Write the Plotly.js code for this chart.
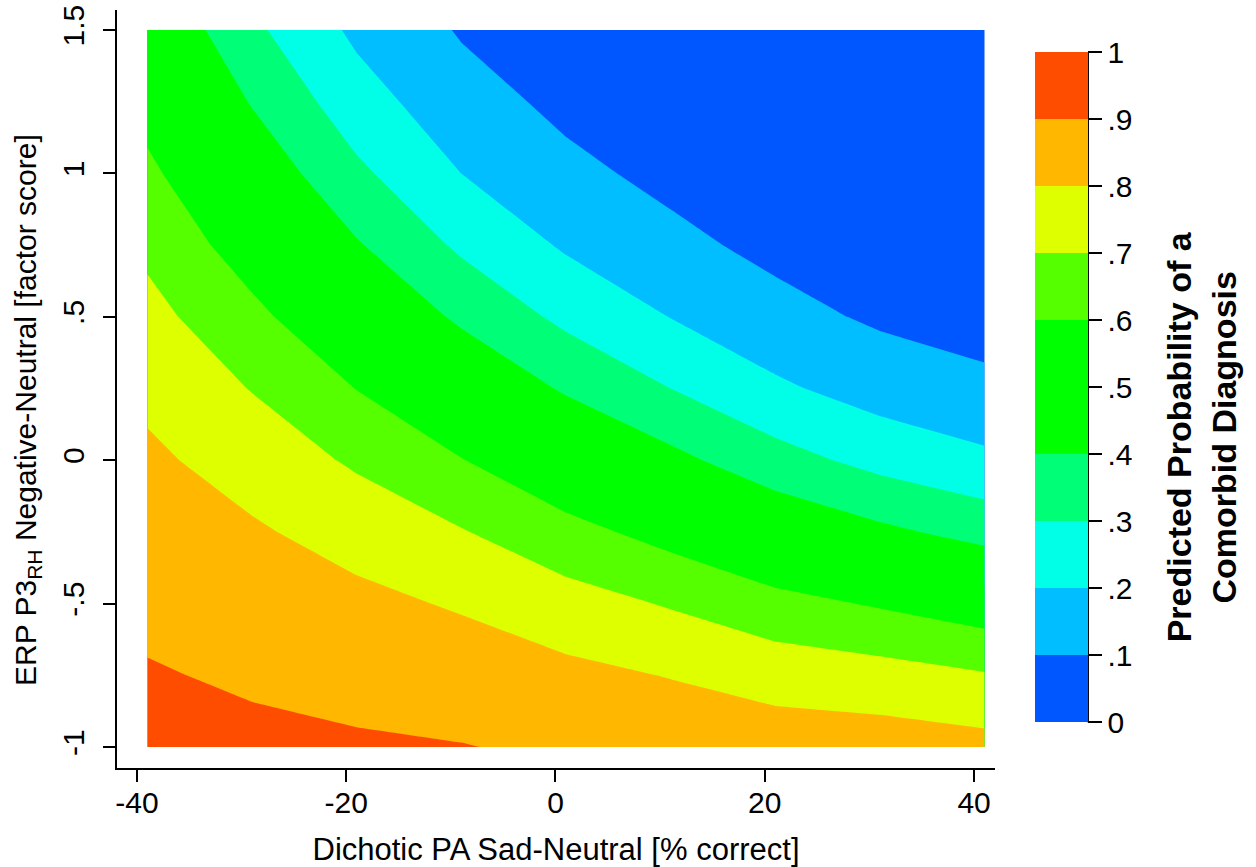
<!DOCTYPE html>
<html>
<head>
<meta charset="utf-8">
<script src="https://cdn.plot.ly/plotly-3.0.1.min.js"></script>
<style>html,body{margin:0;padding:0;background:#fff;}#chart{width:1256px;height:867px;}</style>
</head>
<body>
<div id="chart"></div>
<script>
// Dichotic PA Sad-Neutral [% correct]
var xValues = [-39, -29, -19, -9, 1, 11, 21, 31, 41];
// ERP P3 RH Negative-Neutral [factor score]
var yValues = [-1, -0.75, -0.5, -0.25, 0, 0.25, 0.5, 0.75, 1, 1.25, 1.5];

// Predicted probability of a comorbid diagnosis, one row per y value
var zAtYm100 = [0.925, 0.917, 0.910, 0.903, 0.886, 0.872, 0.854, 0.849, 0.832];
var zAtYm075 = [0.906, 0.890, 0.874, 0.855, 0.825, 0.796, 0.760, 0.740, 0.708];
var zAtYm050 = [0.882, 0.855, 0.825, 0.790, 0.740, 0.692, 0.633, 0.590, 0.542];
var zAtYm025 = [0.853, 0.812, 0.762, 0.706, 0.633, 0.564, 0.484, 0.421, 0.366];
var zAtY000  = [0.818, 0.759, 0.686, 0.604, 0.511, 0.427, 0.338, 0.269, 0.220];
var zAtY025  = [0.778, 0.696, 0.598, 0.493, 0.388, 0.300, 0.217, 0.157, 0.121];
var zAtY050  = [0.731, 0.626, 0.504, 0.382, 0.277, 0.198, 0.131, 0.086, 0.063];
var zAtY075  = [0.679, 0.549, 0.409, 0.283, 0.188, 0.124, 0.076, 0.046, 0.032];
var zAtY100  = [0.622, 0.471, 0.320, 0.200, 0.123, 0.076, 0.043, 0.024, 0.016];
var zAtY125  = [0.561, 0.393, 0.243, 0.138, 0.078, 0.045, 0.024, 0.012, 0.008];
var zAtY150  = [0.499, 0.321, 0.180, 0.092, 0.049, 0.026, 0.013, 0.006, 0.004];

var levelTickVals = [0, 0.1, 0.2, 0.3, 0.4, 0.5, 0.6, 0.7, 0.8, 0.9, 1];
var levelTickText = ['0', '.1', '.2', '.3', '.4', '.5', '.6', '.7', '.8', '.9', '1'];
var yTickVals = [-1, -0.5, 0, 0.5, 1, 1.5];
var yTickText = ['-1', '-.5', '0', '.5', '1', '1.5'];
var xTickVals = [-40, -20, 0, 20, 40];
var xTickText = ['-40', '-20', '0', '20', '40'];

// band colours (0-.1, .1-.2, ... .9-1)
var bandColors = ['#0057FF', '#00BEFF', '#00FFE6', '#00FF77', '#00FF00',
                  '#00FF00', '#55FF00', '#DDFF00', '#FFB700', '#FF4D00'];

var zGrid = [zAtYm100, zAtYm075, zAtYm050, zAtYm025, zAtY000, zAtY025,
             zAtY050, zAtY075, zAtY100, zAtY125, zAtY150];

// step colour scale: band k occupies [k/10, (k+1)/10]
var colorscale = [];
for (var i = 0; i < bandColors.length; i++) {
  colorscale.push([i / bandColors.length + (i === 0 ? 0 : 1e-6), bandColors[i]]);
  colorscale.push([(i + 1) / bandColors.length, bandColors[i]]);
}

var font = 'Liberation Sans, Arial, sans-serif';

var trace = {
  type: 'contour',
  x: xValues,
  y: yValues,
  z: zGrid,
  zmin: 0, zmax: 1,
  autocontour: false,
  contours: {start: 0, end: 1, size: 0.1, coloring: 'fill', showlines: false},
  line: {width: 0, smoothing: 0},
  colorscale: colorscale,
  hoverinfo: 'x+y+z',
  colorbar: {
    x: 1.0456, xanchor: 'left', xpad: 0,
    y: 0.5026, yanchor: 'middle', ypad: 0,
    len: 0.884, lenmode: 'fraction',
    thickness: 53, thicknessmode: 'pixels',
    outlinewidth: 0,
    tickmode: 'array', tickvals: levelTickVals, ticktext: levelTickText,
    ticks: 'outside', ticklen: 14, tickwidth: 2, tickcolor: '#000',
    tickfont: {family: font, size: 30, color: '#000'}
  }
};

var layout = {
  width: 1256, height: 867,
  margin: {l: 117, r: 261, t: 10, b: 99},
  paper_bgcolor: '#fff', plot_bgcolor: '#fff',
  showlegend: false,
  font: {family: font, color: '#000'},
  xaxis: {
    range: [-41.9, 42], showgrid: false, zeroline: false,
    showline: true, linecolor: '#000', linewidth: 2,
    ticks: 'outside', ticklen: 12, tickwidth: 2, tickcolor: '#000',
    tickmode: 'array', tickvals: xTickVals, ticktext: xTickText,
    ticklabelstandoff: -5,
    tickfont: {family: font, size: 30, color: '#000'},
    title: {text: 'Dichotic PA Sad-Neutral [% correct]', font: {family: font, size: 31, color: '#000'}, standoff: 24}
  },
  yaxis: {
    range: [-1.073, 1.57], showgrid: false, zeroline: false,
    showline: true, linecolor: '#000', linewidth: 2,
    ticks: 'outside', ticklen: 12, tickwidth: 2, tickcolor: '#000',
    tickmode: 'array', tickvals: yTickVals, ticktext: yTickText, tickangle: -90,
    ticklabelstandoff: 7,
    tickfont: {family: font, size: 30, color: '#000'}
  },
  shapes: [
    {type: 'line', xref: 'paper', yref: 'paper', x0: 1.1059, x1: 1.1059, y0: 0.0604, y1: 0.9443,
     line: {color: '#000', width: 2}}
  ],
  annotations: [
    {xref: 'paper', yref: 'paper', x: -0.1014, y: 0.4723, xanchor: 'center', yanchor: 'middle',
     textangle: -90, showarrow: false,
     text: 'ERP P3<sub>RH</sub> Negative-Neutral [factor score]',
     font: {family: font, size: 30, color: '#000'}},
    {xref: 'paper', yref: 'paper', x: 1.235, y: 0.4367, xanchor: 'center', yanchor: 'middle',
     textangle: -90, showarrow: false,
     text: '<b>Predicted Probability of a<br>Comorbid Diagnosis</b>',
     font: {family: font, size: 34, color: '#000'}}
  ]
};

Plotly.newPlot('chart', [trace], layout, {displayModeBar: false, staticPlot: true});
</script>
</body>
</html>
